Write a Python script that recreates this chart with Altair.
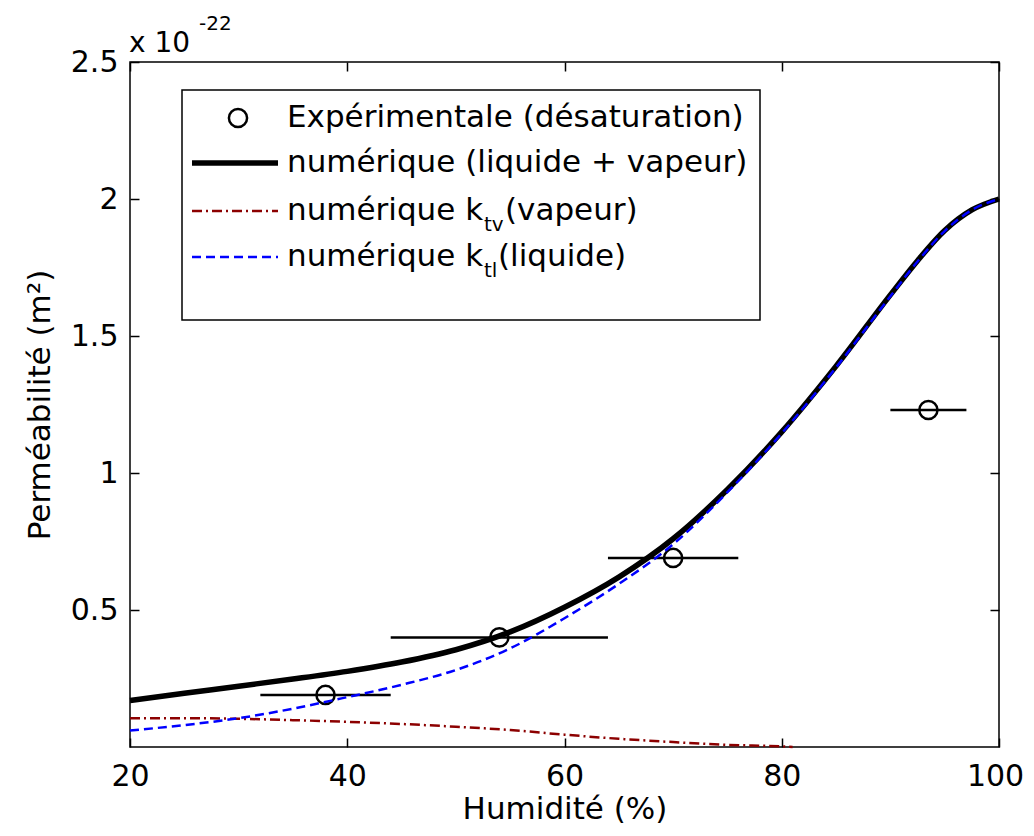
import altair as alt
import pandas as pd

# ---- data (values in units of 1e-22 m^2) ----
hum = [20, 25, 30, 35, 40, 45, 50, 55, 60, 65, 70, 75, 80, 85, 90, 92.5, 95, 97.5, 100]
total = [0.17, 0.196, 0.222, 0.248, 0.276, 0.31, 0.355, 0.42, 0.51, 0.62, 0.76, 0.94, 1.15, 1.39, 1.65, 1.775, 1.885, 1.96, 2.00]
liquid = [0.06, 0.08, 0.105, 0.14, 0.182, 0.227, 0.281, 0.36, 0.47, 0.595, 0.74, 0.93, 1.145, 1.385, 1.645, 1.772, 1.883, 1.96, 2.00]
vap_hum = [20, 25, 30, 35, 40, 45, 50, 55, 60, 65, 70, 75, 80, 81]
vapor = [0.105, 0.105, 0.103, 0.098, 0.092, 0.084, 0.074, 0.062, 0.045, 0.03, 0.018, 0.008, 0.002, 0.0]

exp_hum = [38, 54, 70, 93.5]
exp_perm = [0.19, 0.40, 0.69, 1.23]
exp_lo = [32, 44, 64, 90]
exp_hi = [44, 64, 76, 97]

x_ticks = [20, 40, 60, 80, 100]
y_ticks = [0.5, 1, 1.5, 2, 2.5]

legend_labels = ["Expérimentale (désaturation)", "numérique (liquide + vapeur)",
                 "numérique k", "numérique k"]

W, H = 869, 685
FONT = "DejaVu Sans"

df_tot = pd.DataFrame({"hum": hum, "perm": total})
df_liq = pd.DataFrame({"hum": hum, "perm": liquid})
df_vap = pd.DataFrame({"hum": vap_hum, "perm": vapor})
df_exp = pd.DataFrame({"hum": exp_hum, "perm": exp_perm, "lo": exp_lo, "hi": exp_hi})
one = pd.DataFrame({"a": [0]})

xs = alt.Scale(domain=[20, 100], nice=False, zero=False)
ys = alt.Scale(domain=[0, 2.5], nice=False, zero=False)


def tick_axis(orient, offset, values):
    return alt.Axis(orient=orient, offset=offset, values=values, labels=False,
                    domain=False, grid=False, ticks=True, tickSize=9,
                    tickWidth=1.5, tickColor="black", title=None)


main_x = alt.Axis(values=x_ticks, ticks=False, tickSize=0, domain=False, grid=False,
                  labelFont=FONT, labelFontSize=30, labelColor="black",
                  labelPadding=38, labelBaseline="alphabetic", labelFlush=False,
                  labelOverlap=False, format="d",
                  labelOffset={"condition": {"test": "datum.value == 100", "value": -4}, "value": 0},
                  title="Humidité (%)", titleFont=FONT, titleFontSize=31,
                  titleFontWeight="normal", titleColor="black",
                  titleX=W / 2, titleY=71, titleBaseline="alphabetic", titleAlign="center")
main_y = alt.Axis(values=y_ticks, ticks=False, tickSize=0, domain=False, grid=False,
                  labelFont=FONT, labelFontSize=30, labelColor="black",
                  labelPadding=12, labelBaseline="middle", labelFlush=False,
                  labelOverlap=False, format="~g",
                  title="Perméabilité (m²)", titleFont=FONT, titleFontSize=31,
                  titleFontWeight="normal", titleColor="black",
                  titleX=-81, titleY=H / 2, titleAngle=270,
                  titleBaseline="alphabetic", titleAlign="center")

errbars = alt.Chart(df_exp).mark_rule(color="black", strokeWidth=2.5).encode(
    x=alt.X("lo:Q", scale=xs, axis=tick_axis("top", -H, x_ticks)),
    x2="hi:Q",
    y=alt.Y("perm:Q", scale=ys, axis=tick_axis("right", -W, y_ticks)),
)
points = alt.Chart(df_exp).mark_point(shape="circle", filled=False, color="black",
                                      opacity=1, size=330, strokeWidth=2.5).encode(
    x=alt.X("hum:Q", scale=xs, axis=tick_axis("bottom", -H, x_ticks)),
    y=alt.Y("perm:Q", scale=ys, axis=tick_axis("left", -W, y_ticks)),
)
line_tot = alt.Chart(df_tot).mark_line(color="black", strokeWidth=5.5, interpolate="monotone").encode(
    x=alt.X("hum:Q", scale=xs, axis=main_x),
    y=alt.Y("perm:Q", scale=ys, axis=main_y),
)
line_vap = alt.Chart(df_vap).mark_line(color="#8c0000", strokeWidth=2.5, strokeDash=[10, 4, 2, 4],
                                       interpolate="monotone").encode(
    x=alt.X("hum:Q", scale=xs, axis=None),
    y=alt.Y("perm:Q", scale=ys, axis=None),
)
line_liq = alt.Chart(df_liq).mark_line(color="#0000ff", strokeWidth=2.5, strokeDash=[9, 5],
                                       interpolate="monotone").encode(
    x=alt.X("hum:Q", scale=xs, axis=None),
    y=alt.Y("perm:Q", scale=ys, axis=None),
)

# ---- custom legend (pixel positions inside the plot area) ----
rows = [56, 101, 149, 195]
base = alt.Chart(one)
leg_box = base.mark_rect(fill="white", stroke="black", strokeWidth=1.5).encode(
    x=alt.value(52), x2=alt.value(630), y=alt.value(28), y2=alt.value(258))
leg_circ = base.mark_point(shape="circle", filled=False, color="black", opacity=1, size=330,
                           strokeWidth=2.5).encode(x=alt.value(108), y=alt.value(rows[0]))
leg_l1 = base.mark_rule(color="black", strokeWidth=5.5).encode(
    x=alt.value(62), x2=alt.value(148), y=alt.value(rows[1]))
leg_l2 = base.mark_rule(color="#8c0000", strokeWidth=2.5, strokeDash=[10, 4, 2, 4]).encode(
    x=alt.value(62), x2=alt.value(148), y=alt.value(rows[2]))
leg_l3 = base.mark_rule(color="#0000ff", strokeWidth=2.5, strokeDash=[9, 5]).encode(
    x=alt.value(62), x2=alt.value(148), y=alt.value(rows[3]))


def txt(s, x, y, size=31, baseline="middle"):
    return base.mark_text(align="left", baseline=baseline, font=FONT, fontSize=size,
                          color="black").encode(x=alt.value(x), y=alt.value(y), text=alt.value(s))


texts = [
    txt(legend_labels[0], 157, rows[0]),
    txt(legend_labels[1], 157, rows[1]),
    txt(legend_labels[2], 157, rows[2]),
    txt("tv", 354, rows[2] + 14, 20),
    txt("(vapeur)", 375, rows[2]),
    txt(legend_labels[3], 157, rows[3]),
    txt("tl", 354, rows[3] + 14, 20),
    txt("(liquide)", 368, rows[3]),
    txt("x 10", -1, -10, 28, "alphabetic"),
    txt("-22", 69, -32, 20, "alphabetic"),
]

chart = alt.layer(
    line_tot, errbars, points, line_vap, line_liq,
    leg_box, leg_circ, leg_l1, leg_l2, leg_l3, *texts
).resolve_axis(x="independent", y="independent").properties(
    width=W, height=H,
    padding={"left": 122, "top": 54, "right": 27, "bottom": 81},
    autosize=alt.AutoSizeParams(type="none"),
    background="white",
).configure_view(stroke="black", strokeWidth=1.5)

chart.save("out.html", embed_options={"renderer": "svg", "actions": False})
